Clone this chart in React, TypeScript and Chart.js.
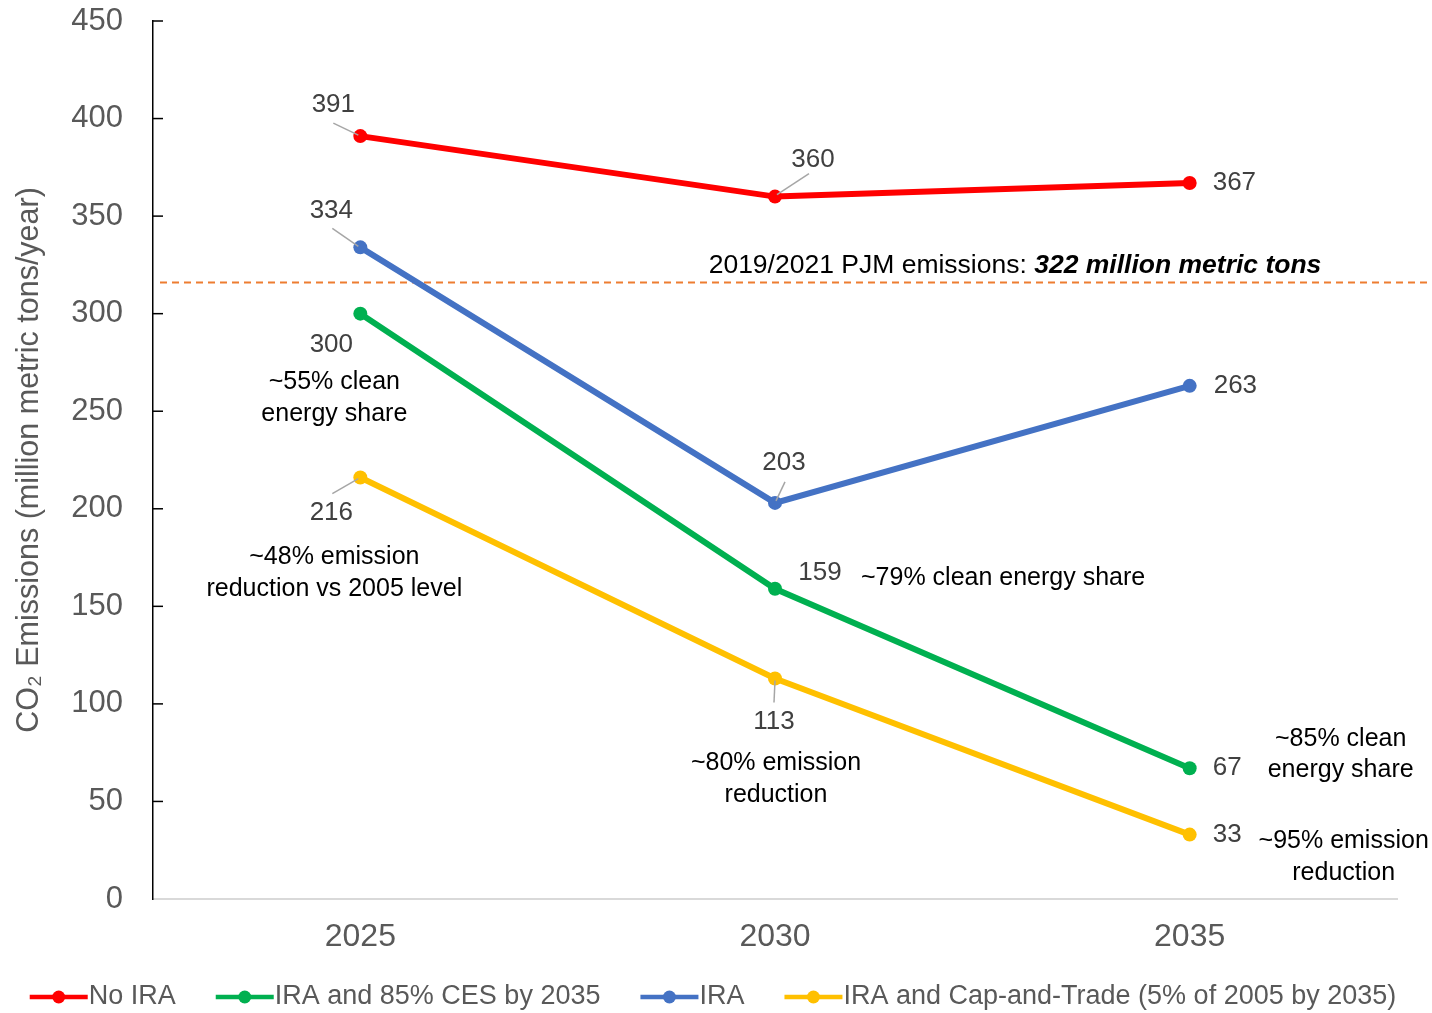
import React, { useEffect, useRef } from "react";
import { Chart, registerables } from "chart.js";

Chart.register(...registerables);

const years = ["2025", "2030", "2035"];
const seriesNames = [
  "No IRA",
  "IRA and 85% CES by 2035",
  "IRA",
  "IRA and Cap-and-Trade (5% of 2005 by 2035)",
];
const noIra = [391, 360, 367];
const iraCes = [300, 159, 67];
const ira = [334, 203, 263];
const iraCap = [216, 113, 33];
const referenceLevel = 316;
const referenceText = "2019/2021 PJM emissions: ";
const referenceBold = "322 million metric tons";
const yTicks = [0, 50, 100, 150, 200, 250, 300, 350, 400, 450];

const colors = ["#FF0000", "#00B050", "#4472C4", "#FFC000"];
const FONT = "'Liberation Sans', Arial, sans-serif";

// label placement: [dx, dy, align, leader [x1,y1,x2,y2] | null]
type LP = [number, number, CanvasTextAlign, number[] | null];
const labelPlace: LP[][] = [
  [
    [-27, -31, "center", [-27, -13, -2, -1]],
    [38, -37, "center", [34, -23, 2, -2]],
    [23, 0, "left", null],
  ],
  [
    [-29, 31, "center", null],
    [45, -16, "center", null],
    [23, 0, "left", null],
  ],
  [
    [-29, -37, "center", [-28, -19, -2, -1]],
    [9, -40, "center", [10, -21, 1, -2]],
    [24, 0, "left", null],
  ],
  [
    [-29, 35, "center", [-28, 16, -2, 1]],
    [-1, 43, "center", [-1, 24, 0, 2]],
    [23, 0, "left", null],
  ],
];

// notes: [datasetIndex, pointIndex, dx, dy, align, text]
const notes: [number, number, number, number, CanvasTextAlign, string][] = [
  [1, 0, -26, 68, "center", "~55% clean"],
  [1, 0, -26, 100, "center", "energy share"],
  [3, 0, -26, 80, "center", "~48% emission"],
  [3, 0, -26, 112, "center", "reduction vs 2005 level"],
  [1, 1, 86, -11, "left", "~79% clean energy share"],
  [3, 1, 1, 85, "center", "~80% emission"],
  [3, 1, 1, 117, "center", "reduction"],
  [1, 2, 151, -29, "center", "~85% clean"],
  [1, 2, 151, 2, "center", "energy share"],
  [3, 2, 154, 6, "center", "~95% emission"],
  [3, 2, 154, 38, "center", "reduction"],
];

const overlay = {
  id: "overlay",
  beforeDatasetsDraw(chart: any) {
    const { ctx, chartArea, scales } = chart;
    const y = scales.y.getPixelForValue(referenceLevel);
    ctx.save();
    ctx.strokeStyle = "#ED7D31";
    ctx.lineWidth = 2;
    ctx.setLineDash([7, 5]);
    ctx.beginPath();
    ctx.moveTo(chartArea.left + 7, y);
    ctx.lineTo(chart.width - 2, y);
    ctx.stroke();
    ctx.setLineDash([]);
    // y tick marks inside
    ctx.strokeStyle = "#000";
    ctx.lineWidth = 1.5;
    yTicks.forEach((v) => {
      if (v === 0) return;
      const py = scales.y.getPixelForValue(v);
      ctx.beginPath();
      ctx.moveTo(chartArea.left, py);
      ctx.lineTo(chartArea.left + 10, py);
      ctx.stroke();
    });
    // reference text
    ctx.textBaseline = "middle";
    ctx.fillStyle = "#000";
    const fs = 26.5;
    ctx.font = `${fs}px ${FONT}`;
    const w1 = ctx.measureText(referenceText).width;
    ctx.font = `italic bold ${fs}px ${FONT}`;
    const w2 = ctx.measureText(referenceBold).width;
    const cx = scales.x.getPixelForValue(1) + 240;
    const x0 = cx - (w1 + w2) / 2;
    ctx.font = `${fs}px ${FONT}`;
    ctx.textAlign = "left";
    ctx.fillText(referenceText, x0, y - 17);
    ctx.font = `italic bold ${fs}px ${FONT}`;
    ctx.fillText(referenceBold, x0 + w1, y - 17);
    ctx.restore();
  },
  afterDatasetsDraw(chart: any) {
    const { ctx } = chart;
    ctx.save();
    ctx.textBaseline = "middle";
    chart.data.datasets.forEach((ds: any, di: number) => {
      const meta = chart.getDatasetMeta(di);
      meta.data.forEach((pt: any, i: number) => {
        const [dx, dy, align, leader] = labelPlace[di][i];
        if (leader) {
          ctx.strokeStyle = "#A6A6A6";
          ctx.lineWidth = 1.5;
          ctx.beginPath();
          ctx.moveTo(pt.x + leader[0], pt.y + leader[1]);
          ctx.lineTo(pt.x + leader[2], pt.y + leader[3]);
          ctx.stroke();
        }
        ctx.fillStyle = "#404040";
        ctx.font = `26px ${FONT}`;
        ctx.textAlign = align;
        ctx.fillText(String(ds.data[i]), pt.x + dx, pt.y + dy);
      });
    });
    notes.forEach(([di, i, dx, dy, align, text]) => {
      const pt = chart.getDatasetMeta(di).data[i];
      ctx.fillStyle = "#000";
      ctx.font = `25px ${FONT}`;
      ctx.textAlign = align;
      ctx.fillText(text, pt.x + dx, pt.y + dy);
    });
    // legend
    ctx.font = `27px ${FONT}`;
    const sample = 58;
    const gap = 40;
    const widths = seriesNames.map((n) => ctx.measureText(n).width);
    const total = widths.reduce((a, b) => a + b + sample + 1, 0) + gap * (seriesNames.length - 1);
    let x = chart.width / 2 - 3 - total / 2;
    const ly = 997;
    seriesNames.forEach((name, k) => {
      ctx.strokeStyle = colors[k];
      ctx.fillStyle = colors[k];
      ctx.lineWidth = 4.5;
      ctx.beginPath();
      ctx.moveTo(x, ly);
      ctx.lineTo(x + sample, ly);
      ctx.stroke();
      ctx.beginPath();
      ctx.arc(x + sample / 2, ly, 6.5, 0, Math.PI * 2);
      ctx.fill();
      ctx.fillStyle = "#595959";
      ctx.textAlign = "left";
      ctx.fillText(name, x + sample + 1, ly);
      x += sample + 1 + widths[k] + gap;
    });
    ctx.restore();
  },
};

export default function App() {
  const ref = useRef<HTMLCanvasElement | null>(null);
  useEffect(() => {
    document.body.style.margin = "0";
    const values = [noIra, iraCes, ira, iraCap];
    const chart = new Chart(ref.current as HTMLCanvasElement, {
      type: "line",
      data: {
        labels: years,
        datasets: seriesNames.map((name, k) => ({
          label: name,
          data: values[k],
          borderColor: colors[k],
          backgroundColor: colors[k],
          borderWidth: 6,
          pointRadius: 7,
          pointHoverRadius: 7,
          pointBorderWidth: 0,
          tension: 0,
        })),
      },
      options: {
        animation: false,
        responsive: true,
        maintainAspectRatio: false,
        layout: { padding: { top: 21, right: 35, left: 0, bottom: 0 } },
        plugins: { legend: { display: false }, tooltip: { enabled: false } },
        scales: {
          x: {
            offset: true,
            grid: { display: true, drawOnChartArea: false, drawTicks: false },
            border: { color: "#D9D9D9", width: 2 },
            ticks: { color: "#595959", font: { family: FONT, size: 32 }, padding: 19 },
            afterFit: (s: any) => {
              s.height = 114;
              s.paddingLeft = 0;
              s.paddingRight = 0;
            },
          },
          y: {
            min: 0,
            max: 450,
            ticks: {
              stepSize: 50,
              color: "#595959",
              font: { family: FONT, size: 31 },
              padding: 30,
            },
            grid: { display: true, drawOnChartArea: false, drawTicks: false },
            border: { color: "#000", width: 1.5 },
            title: {
              display: true,
              text: "CO\u2082 Emissions (million metric tons/year)",
              color: "#595959",
              font: { family: FONT, size: 30.5 },
              padding: { top: 11, bottom: 0 },
            },
            afterFit: (s: any) => {
              s.width = 153;
              s.paddingTop = 0;
              s.paddingBottom = 0;
            },
          },
        },
      },
      plugins: [overlay],
    });
    return () => chart.destroy();
  }, []);
  return (
    <div style={{ width: 1432, height: 1013, position: "relative" }}>
      <canvas ref={ref} />
    </div>
  );
}
